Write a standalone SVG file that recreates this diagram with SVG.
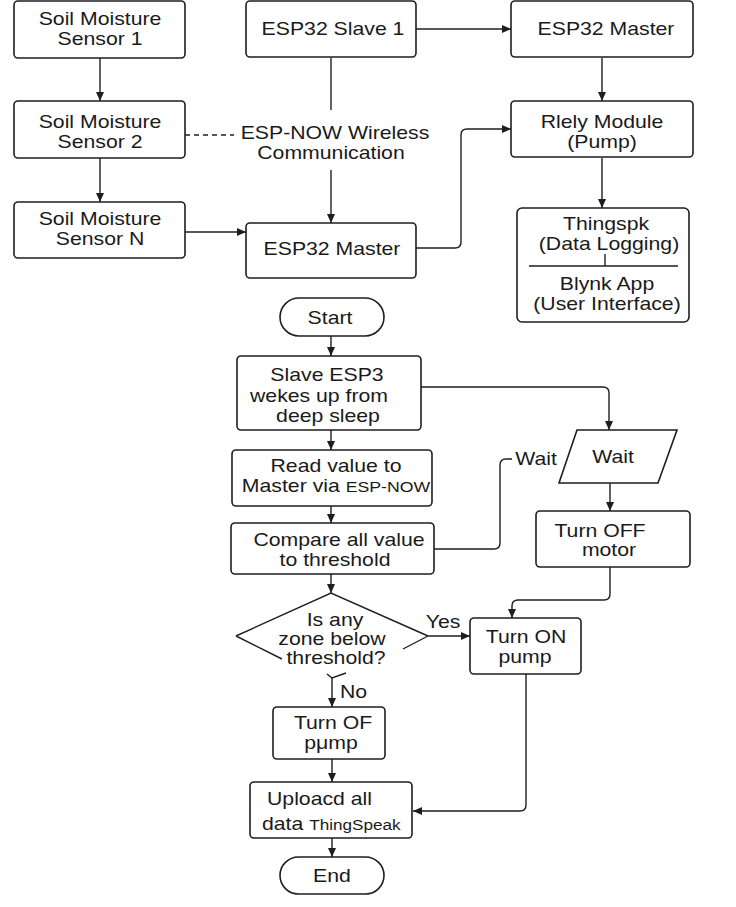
<svg xmlns="http://www.w3.org/2000/svg" width="736" height="907" viewBox="0 0 736 907">
<defs>
<marker id="ah" markerUnits="userSpaceOnUse" markerWidth="9" markerHeight="8" refX="9" refY="4" orient="auto">
<path d="M0,0 L9,4 L0,8 z" fill="#1e1e1e"/>
</marker>
<style>
.b{fill:#fff;stroke:#1e1e1e;stroke-width:1.6}
.c{fill:none;stroke:#1e1e1e;stroke-width:1.4}
.a{marker-end:url(#ah)}
.d{stroke-dasharray:5 4}
text{font-family:"Liberation Sans",Arial,sans-serif;font-size:18px;fill:#1a1a1a;text-anchor:middle}
.l{text-anchor:start}
</style>
</defs>
<rect width="736" height="907" fill="#fff"/>

<g id="connectors">
<path class="c a" d="M100 58 V101"/>
<path class="c a" d="M100 158 V202"/>
<path class="c a" d="M185 232 H246"/>
<path class="c d" d="M185 135 H234"/>
<path class="c" d="M331 58 V110"/>
<path class="c a" d="M331 170 V223"/>
<path class="c a" d="M416 29 H511"/>
<path class="c a" d="M416 248 H455 Q461 248 461 242 V135 Q461 129 467 129 H511"/>
<path class="c a" d="M602 58 V101"/>
<path class="c a" d="M602 158 V208"/>
<path class="c a" d="M331 336 V356"/>
<path class="c a" d="M421 387 H603 Q609 387 609 393 V430"/>
<path class="c a" d="M331 430 V450"/>
<path class="c a" d="M331 506 V523"/>
<path class="c" d="M434 549 H494 Q500 549 500 543 V465 Q500 459 506 459 H512"/>
<path class="c a" d="M610 483 V511"/>
<path class="c a" d="M610 567 V594 Q610 600 604 600 H518 Q512 600 512 606 V618"/>
<path class="c a" d="M331 574 V593"/>
<path class="c a" d="M428 636 H470"/>
<path class="c" d="M327 674 L332 678 L346 673"/>
<path class="c a" d="M332 678 V707"/>
<path class="c a" d="M332 759 V782"/>
<path class="c a" d="M526 674 V805 Q526 811 520 811 H413"/>
<path class="c a" d="M332 838 V857"/>
</g>

<g id="sensor1">
<rect class="b" x="14" y="1" width="171" height="57" rx="4"/>
<text transform="translate(100 25) scale(1.18 1)">Soil Moisture</text>
<text transform="translate(100 45) scale(1.18 1)">Sensor 1</text>
</g>
<g id="sensor2">
<rect class="b" x="14" y="101" width="171" height="57" rx="4"/>
<text transform="translate(100 128) scale(1.18 1)">Soil Moisture</text>
<text transform="translate(100 148) scale(1.18 1)">Sensor 2</text>
</g>
<g id="sensorN">
<rect class="b" x="14" y="202" width="171" height="56" rx="4"/>
<text transform="translate(100 225) scale(1.18 1)">Soil Moisture</text>
<text transform="translate(100 245) scale(1.18 1)">Sensor N</text>
</g>
<g id="slave1">
<rect class="b" x="246" y="1" width="170" height="56" rx="4"/>
<text transform="translate(333 35) scale(1.18 1)">ESP32 Slave 1</text>
</g>
<g id="espnow">
<text transform="translate(335 139) scale(1.18 1)">ESP-NOW Wireless</text>
<text transform="translate(331 159) scale(1.18 1)">Communication</text>
</g>
<g id="masterL">
<rect class="b" x="246" y="223" width="170" height="55" rx="4"/>
<text transform="translate(332 255) scale(1.18 1)">ESP32 Master</text>
</g>
<g id="masterR">
<rect class="b" x="511" y="1" width="182" height="56" rx="4"/>
<text transform="translate(606 35) scale(1.18 1)">ESP32 Master</text>
</g>
<g id="relay">
<rect class="b" x="511" y="101" width="182" height="56" rx="4"/>
<text transform="translate(602 128) scale(1.18 1)">Rlely Module</text>
<text transform="translate(602 148) scale(1.18 1)">(Pump)</text>
</g>
<g id="cloud">
<rect class="b" x="517" y="208" width="172" height="114" rx="5"/>
<line class="c" x1="529" y1="266" x2="678" y2="266"/>
<line class="c" x1="605" y1="254" x2="605" y2="266"/>
<text transform="translate(606 230) scale(1.18 1)">Thingspk</text>
<text transform="translate(609 250) scale(1.18 1)">(Data Logging)</text>
<text transform="translate(607 290) scale(1.18 1)">Blynk App</text>
<text transform="translate(607 310) scale(1.18 1)">(User Interface)</text>
</g>

<g id="start">
<rect class="b" x="280" y="298" width="104" height="38" rx="19"/>
<text transform="translate(330 324) scale(1.18 1)">Start</text>
</g>
<g id="wake">
<rect class="b" x="237" y="356" width="184" height="74" rx="4"/>
<text transform="translate(327 381) scale(1.18 1)">Slave ESP3</text>
<text transform="translate(319 402) scale(1.18 1)">wekes up from</text>
<text transform="translate(328 422) scale(1.18 1)">deep sleep</text>
</g>
<g id="read">
<rect class="b" x="232" y="450" width="200" height="56" rx="4"/>
<text transform="translate(336 472) scale(1.18 1)">Read value to</text>
<text transform="translate(336 492) scale(1.18 1)">Master via <tspan font-size="15">ESP-NOW</tspan></text>
</g>
<g id="compare">
<rect class="b" x="231" y="523" width="203" height="51" rx="4"/>
<text transform="translate(339 546) scale(1.18 1)">Compare all value</text>
<text transform="translate(335 566) scale(1.18 1)">to threshold</text>
</g>
<g id="waitlabel">
<text transform="translate(536 465) scale(1.18 1)">Wait</text>
</g>
<g id="wait">
<polygon class="b" points="577,430 677,430 658,483 559,483"/>
<text transform="translate(613 463) scale(1.18 1)">Wait</text>
</g>
<g id="offmotor">
<rect class="b" x="536" y="511" width="154" height="56" rx="4"/>
<text transform="translate(600 537) scale(1.18 1)">Turn OFF</text>
<text transform="translate(609 556) scale(1.18 1)">motor</text>
</g>
<g id="decision">
<path class="c" d="M236 636 L331 593 L428 636 M236 636 L282 659 M428 636 L403 649"/>
<text transform="translate(335 626) scale(1.18 1)">Is any</text>
<text transform="translate(332 645) scale(1.18 1)">zone below</text>
<text transform="translate(336 664) scale(1.18 1)">threshold?</text>
<text transform="translate(443 628) scale(1.18 1)">Yes</text>
<text class="l" transform="translate(340 698) scale(1.18 1)">No</text>
</g>
<g id="onpump">
<rect class="b" x="470" y="618" width="111" height="56" rx="4"/>
<text transform="translate(526 643) scale(1.18 1)">Turn ON</text>
<text transform="translate(525 663) scale(1.18 1)">pump</text>
</g>
<g id="offpump">
<rect class="b" x="273" y="707" width="112" height="52" rx="4"/>
<text transform="translate(333 729) scale(1.18 1)">Turn OF</text>
<text transform="translate(331 749) scale(1.18 1)">pμmp</text>
</g>
<g id="upload">
<rect class="b" x="250" y="782" width="162" height="56" rx="4"/>
<text class="l" transform="translate(267 805) scale(1.18 1)">Uploacd all</text>
<text class="l" transform="translate(262 830) scale(1.18 1)">data <tspan font-size="14.5">ThingSpeak</tspan></text>
</g>
<g id="end">
<rect class="b" x="280" y="857" width="104" height="37" rx="18.5"/>
<text transform="translate(332 882) scale(1.18 1)">End</text>
</g>
</svg>
